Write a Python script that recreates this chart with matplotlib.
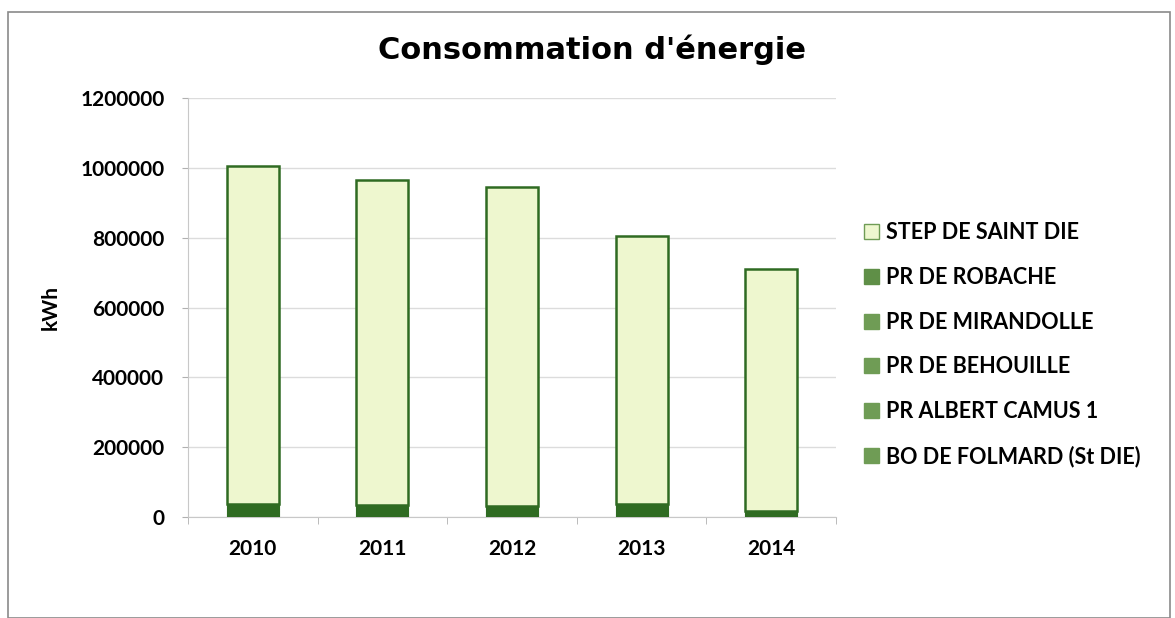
import matplotlib
matplotlib.use("Agg")
import matplotlib.pyplot as plt
import numpy as np
from matplotlib.patches import Rectangle

years = ["2010", "2011", "2012", "2013", "2014"]
series_names = ["BO DE FOLMARD (St DIE)", "PR ALBERT CAMUS 1", "PR DE BEHOUILLE",
                "PR DE MIRANDOLLE", "PR DE ROBACHE", "STEP DE SAINT DIE"]
bo_folmard = [9000, 8000, 7500, 9000, 4000]
albert_camus = [8000, 7500, 7000, 8000, 4000]
behouille = [7000, 6500, 6000, 7000, 3500]
mirandolle = [7000, 6500, 6000, 7000, 3000]
robache = [6000, 5500, 4500, 6000, 2500]
step_saint_die = [968000, 931000, 914000, 768000, 693000]
yticks = [0, 200000, 400000, 600000, 800000, 1000000, 1200000]

values = [bo_folmard, albert_camus, behouille, mirandolle, robache, step_saint_die]
bar_colors = ["#2f6b22", "#2f6b22", "#2f6b22", "#2f6b22", "#2f6b22", "#eef7cf"]
legend_colors = ["#6f9c55", "#6f9c55", "#6f9c55", "#6f9c55", "#5f8f47", "#eef7cf"]

FONT = ["Lato", "DejaVu Sans"]

fig = plt.figure(figsize=(11.75, 6.18), dpi=100)
fig.patches.append(Rectangle((8/1175, 0.0), (1170-8)/1175, (618-12)/618 - 0.0,
                             transform=fig.transFigure, fill=False,
                             edgecolor="#8a8a8a", linewidth=1.2))

ax = fig.add_axes([188/1175, 1 - 517/618, (836-188)/1175, (517-98)/618])
x = np.arange(len(years))
bottom = np.zeros(len(years))
for name, vals, col in zip(series_names, values, bar_colors):
    ax.bar(x, vals, width=0.4, bottom=bottom, color=col, edgecolor="#2f6b22",
           linewidth=1.8 if col == "#eef7cf" else 0.8, zorder=3)
    bottom += np.array(vals)

ax.set_xlim(-0.5, len(years) - 0.5)
ax.set_ylim(0, 1200000)
ax.set_yticks(yticks)
ax.set_yticklabels([str(v) for v in yticks], fontsize=15, fontweight="bold", family=FONT)
ax.set_xticks(x)
ax.set_xticklabels(years, fontsize=15, fontweight="bold", family=FONT)
ax.set_xticks(np.arange(-0.5, len(years)), minor=True)
ax.tick_params(axis="x", which="major", length=0, pad=16)
ax.tick_params(axis="x", which="minor", length=5, color="#b0b0b0")
ax.tick_params(axis="y", length=4, color="#b0b0b0", pad=13)
ax.grid(axis="y", color="#dcdcdc", linewidth=1, zorder=0)
for s in ["top", "right"]:
    ax.spines[s].set_visible(False)
ax.spines["left"].set_color("#c8c8c8")
ax.spines["bottom"].set_color("#c8c8c8")
ax.set_ylabel("kWh", fontsize=15, fontweight="bold", family=FONT, labelpad=14)

fig.text(592/1175, 1 - 50/618, "Consommation d'énergie", ha="center", va="center",
         fontsize=22, fontweight="heavy", family=["DejaVu Sans"])

handles = [Rectangle((0, 0), 1, 1, facecolor=c, edgecolor="#6f9c55" if i == 5 else c, linewidth=1)
           for i, c in enumerate(legend_colors)]
leg = fig.legend(handles[::-1], series_names[::-1], loc="upper left",
                 bbox_to_anchor=(845/1175, 1 - 203/618), frameon=False,
                 prop={"family": FONT, "weight": "bold", "size": 15.5},
                 labelspacing=1.1, handlelength=0.7, handleheight=0.7, handletextpad=0.3)

fig.savefig("out.png", dpi=100, facecolor="white")
